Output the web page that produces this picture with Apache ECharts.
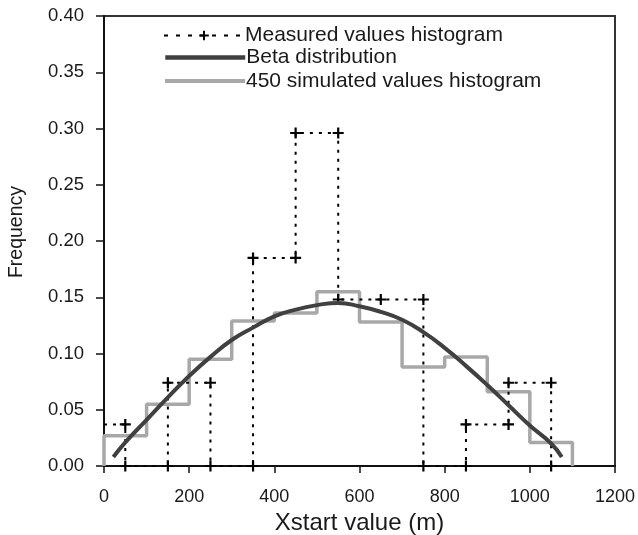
<!DOCTYPE html>
<html>
<head>
<meta charset="utf-8">
<script src="https://cdn.jsdelivr.net/npm/echarts@6/dist/echarts.min.js"></script>
<style>
html,body{margin:0;padding:0;background:#fff;}
#chart{width:638px;height:535px;}
</style>
</head>
<body>
<div id="chart"></div>
<script>
// Measured values histogram (polyline vertices)
var measuredX = [0, 50, 50, 150, 150, 250, 250, 350, 350, 450, 450, 550, 550, 650, 750, 750, 850, 850, 950, 950, 1050, 1050];
var measuredY = [0.037, 0.037, 0, 0, 0.074, 0.074, 0, 0, 0.185, 0.185, 0.296, 0.296, 0.148, 0.148, 0.148, 0, 0, 0.037, 0.037, 0.074, 0.074, 0];

// Beta distribution curve
var betaX = [22, 50, 100, 150, 200, 250, 300, 350, 400, 450, 500, 550, 600, 650, 700, 750, 800, 850, 900, 950, 1000, 1050, 1075];
var betaY = [0.008, 0.021, 0.041, 0.061, 0.080, 0.097, 0.112, 0.123, 0.133, 0.139, 0.143, 0.145, 0.142, 0.137, 0.130, 0.119, 0.105, 0.089, 0.072, 0.054, 0.036, 0.020, 0.008];

// 450 simulated values histogram (bins of width 100)
var simEdges = [0, 100, 200, 300, 400, 500, 600, 700, 800, 900, 1000, 1100];
var simValues = [0.027, 0.055, 0.095, 0.129, 0.136, 0.155, 0.128, 0.088, 0.097, 0.066, 0.021];

var seriesNames = ['Measured values histogram', 'Beta distribution', '450 simulated values histogram'];
var xTicks = [0, 200, 400, 600, 800, 1000, 1200];
var yTicks = [0, 0.05, 0.10, 0.15, 0.20, 0.25, 0.30, 0.35, 0.40];

var measuredData = measuredX.map(function (x, i) {
  var p = { value: [x, measuredY[i]] };
  if (i === 0) p.symbol = 'none';
  return p;
});
var betaData = betaX.map(function (x, i) { return [x, betaY[i]]; });
var simData = [[simEdges[0], 0]];
simValues.forEach(function (v, i) {
  simData.push([simEdges[i], v]);
  simData.push([simEdges[i + 1], v]);
});
simData.push([simEdges[simEdges.length - 1], 0]);

var plus = 'path://M4,0h2v4h4v2h-4v4h-2v-4h-4v-2h4z';
var font = 'Liberation Sans, Arial, sans-serif';
var hidden = { color: 'rgba(0,0,0,0)', borderWidth: 0, opacity: 0 };

function legendFor(item, top, padTop) {
  return {
    orient: 'vertical',
    left: 158, top: top,
    itemWidth: 80, itemHeight: 12, itemGap: 0,
    data: [item],
    textStyle: { fontFamily: font, fontSize: 21, lineHeight: 21, color: '#1a1a1a', padding: [padTop, 0, 0, -4] }
  };
}

var chart = echarts.init(document.getElementById('chart'), null, { renderer: 'canvas' });
chart.setOption({
  animation: false,
  backgroundColor: '#fff',
  grid: {
    left: 104, top: 16, right: 23, bottom: 69,
    outerBoundsMode: 'none', containLabel: false,
    show: true, borderColor: '#333', borderWidth: 2, backgroundColor: 'transparent'
  },
  legend: [
    legendFor({ name: seriesNames[0], lineStyle: { type: [4, 8] } }, 20, 0),
    legendFor({ name: seriesNames[1], itemStyle: hidden, lineStyle: { width: 4.5 } }, 42, -8),
    legendFor({ name: seriesNames[2], itemStyle: hidden, lineStyle: { width: 4 } }, 65.5, -10)
  ],
  xAxis: {
    type: 'value', min: 0, max: 1200, interval: 200,
    name: 'Xstart value (m)', nameLocation: 'middle', nameGap: 40,
    nameTextStyle: { fontFamily: font, fontSize: 24, color: '#1a1a1a' },
    axisLine: { show: true, onZero: false, lineStyle: { color: '#111', width: 2 } },
    axisTick: { show: true, inside: false, length: 7, lineStyle: { color: '#111', width: 1.5 } },
    axisLabel: { fontFamily: font, fontSize: 18, color: '#1a1a1a', margin: 22,
      formatter: function (v) { return xTicks.indexOf(v) >= 0 ? String(v) : ''; } },
    splitLine: { show: false }
  },
  yAxis: {
    type: 'value', min: 0, max: 0.4, interval: 0.05,
    name: 'Frequency', nameLocation: 'middle', nameGap: 77, nameRotate: 90,
    nameTextStyle: { fontFamily: font, fontSize: 19.5, color: '#1a1a1a', padding: [0, 0, 0, 18] },
    axisLine: { show: true, onZero: false, lineStyle: { color: '#111', width: 2 } },
    axisTick: { show: true, inside: false, length: 8, lineStyle: { color: '#111', width: 1.5 } },
    axisLabel: { fontFamily: font, fontSize: 18.5, color: '#1a1a1a', margin: 20,
      formatter: function (v) { return v.toFixed(2); } },
    splitLine: { show: false }
  },
  series: [
    {
      name: seriesNames[0], type: 'line', data: measuredData,
      symbol: plus, symbolSize: 11, showSymbol: true,
      itemStyle: { color: '#000' },
      lineStyle: { color: '#000', width: 2, type: [3, 6] },
      z: 3
    },
    {
      name: seriesNames[1], type: 'line', data: betaData,
      symbol: 'none', smooth: 0.5,
      itemStyle: { color: '#404040' },
      lineStyle: { color: '#404040', width: 4 },
      z: 4
    },
    {
      name: seriesNames[2], type: 'line', data: simData,
      symbol: 'none',
      itemStyle: { color: '#a8a8a8' },
      lineStyle: { color: '#a8a8a8', width: 3.5 },
      z: 2
    }
  ]
});
</script>
</body>
</html>
